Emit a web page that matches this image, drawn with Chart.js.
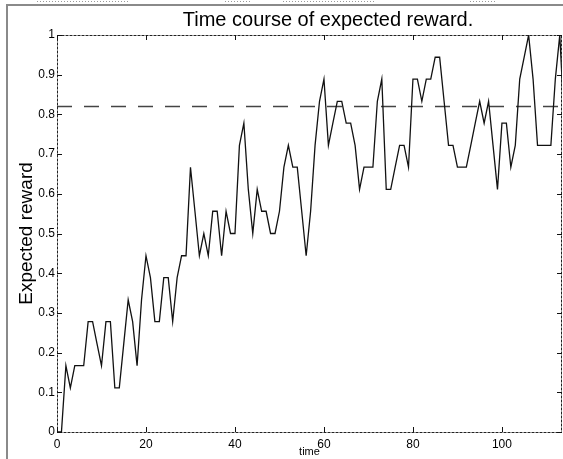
<!DOCTYPE html>
<html>
<head>
<meta charset="utf-8">
<title>Time course of expected reward</title>
<script src="https://cdn.jsdelivr.net/npm/chart.js@4.4.0/dist/chart.umd.min.js"></script>
<style>
  html, body { margin: 0; padding: 0; background: #fff; }
</style>
</head>
<body>
<canvas id="grafico" width="563" height="459"></canvas>
<script>
// Dados (tempo x recompensa esperada)
const timeSteps = [
  0, 1, 2, 3, 4, 5, 6, 7, 8, 9, 10, 11, 12, 13, 14, 15, 16, 17, 18, 19,
  20, 21, 22, 23, 24, 25, 26, 27, 28, 29, 30, 31, 32, 33, 34, 35, 36, 37, 38, 39,
  40, 41, 42, 43, 44, 45, 46, 47, 48, 49, 50, 51, 52, 53, 54, 55, 56, 57, 58, 59,
  60, 61, 62, 63, 64, 65, 66, 67, 68, 69, 70, 71, 72, 73, 74, 75, 76, 77, 78, 79,
  80, 81, 82, 83, 84, 85, 86, 87, 88, 89, 90, 91, 92, 93, 94, 95, 96, 97, 98, 99,
  100, 101, 102, 103, 104, 105, 106, 107, 108, 109, 110, 111, 112, 113, 114
];
const expectedReward = [
  0, 0, 0.167, 0.111, 0.167, 0.167, 0.167, 0.278, 0.278, 0.222,
  0.167, 0.278, 0.278, 0.111, 0.111, 0.222, 0.333, 0.278, 0.167, 0.333,
  0.444, 0.389, 0.278, 0.278, 0.389, 0.389, 0.278, 0.389, 0.444, 0.444,
  0.667, 0.556, 0.444, 0.5, 0.444, 0.556, 0.556, 0.444, 0.556, 0.5,
  0.5, 0.722, 0.778, 0.611, 0.5, 0.611, 0.556, 0.556, 0.5, 0.5,
  0.556, 0.667, 0.722, 0.667, 0.667, 0.556, 0.444, 0.556, 0.722, 0.833,
  0.889, 0.722, 0.778, 0.833, 0.833, 0.778, 0.778, 0.722, 0.611, 0.667,
  0.667, 0.667, 0.833, 0.889, 0.611, 0.611, 0.667, 0.722, 0.722, 0.667,
  0.889, 0.889, 0.833, 0.889, 0.889, 0.944, 0.944, 0.833, 0.722, 0.722,
  0.667, 0.667, 0.667, 0.722, 0.778, 0.833, 0.778, 0.833, 0.722, 0.611,
  0.778, 0.778, 0.667, 0.722, 0.889, 0.944, 1.0, 0.889, 0.722, 0.722,
  0.722, 0.722, 0.889, 1.0, 0.778
];
const referenceLevel = 0.82;   // linha tracejada
const xRange = [0, 113.5];
const xTicks = [0, 20, 40, 60, 80, 100];
const yTicks = [0, 0.1, 0.2, 0.3, 0.4, 0.5, 0.6, 0.7, 0.8, 0.9, 1];

const chartTitle = 'Time course of expected reward.';
const FONT = '"Liberation Sans", Arial, Helvetica, sans-serif';

// Moldura estilo MATLAB: caixa pontilhada, ticks para dentro e título
const moldura = {
  id: 'moldura',
  afterDraw(chart) {
    const { ctx, chartArea: a, scales: { x, y } } = chart;
    ctx.save();

    // borda da janela (cinza)
    ctx.strokeStyle = '#8a8a8a';
    ctx.lineWidth = 2;
    ctx.beginPath();
    ctx.moveTo(7, 459); ctx.lineTo(7, 5); ctx.lineTo(563, 5);
    ctx.stroke();

    // restos pontilhados no topo
    ctx.lineWidth = 1;
    ctx.strokeStyle = '#999';
    ctx.setLineDash([1, 2]);
    [[37, 130], [225, 250], [283, 375], [470, 495]].forEach(([x0, x1]) => {
      ctx.beginPath(); ctx.moveTo(x0, 1.5); ctx.lineTo(x1, 1.5); ctx.stroke();
    });

    // caixa do gráfico
    ctx.strokeStyle = '#222';
    ctx.setLineDash([3, 1]);
    ctx.strokeRect(a.left + 0.5, a.top + 0.5, a.right - a.left - 1, a.bottom - a.top);
    ctx.setLineDash([]);

    // ticks para dentro
    const len = 5;
    ctx.strokeStyle = '#111';
    ctx.beginPath();
    xTicks.forEach(v => {
      const px = Math.round(x.getPixelForValue(v)) + 0.5;
      ctx.moveTo(px, a.bottom); ctx.lineTo(px, a.bottom - len);
      ctx.moveTo(px, a.top); ctx.lineTo(px, a.top + len);
    });
    yTicks.forEach(v => {
      const py = Math.round(y.getPixelForValue(v)) + 0.5;
      ctx.moveTo(a.left, py); ctx.lineTo(a.left + len, py);
      ctx.moveTo(a.right, py); ctx.lineTo(a.right - len, py);
    });
    ctx.stroke();

    // título
    ctx.fillStyle = '#000';
    ctx.font = '20px ' + FONT;
    ctx.textAlign = 'center';
    ctx.textBaseline = 'alphabetic';
    ctx.fillText(chartTitle, 328, 26);

    ctx.restore();
  }
};

const ctx = document.getElementById('grafico').getContext('2d');

new Chart(ctx, {
  type: 'line',
  data: {
    datasets: [
      {
        label: 'Expected reward',
        data: timeSteps.map((t, i) => ({ x: t, y: expectedReward[i] })),
        borderColor: '#111',
        borderWidth: 1.3,
        pointRadius: 0,
        tension: 0
      },
      {
        label: 'Reference',
        data: [{ x: xRange[0], y: referenceLevel }, { x: xRange[1], y: referenceLevel }],
        borderColor: '#444',
        borderWidth: 1.5,
        borderDash: [15, 12],
        pointRadius: 0
      }
    ]
  },
  options: {
    responsive: false,
    animation: false,
    layout: { padding: { top: 35, right: 1, left: 0, bottom: 0 } },
    plugins: {
      legend: { display: false },
      title: { display: false },
      tooltip: { enabled: false }
    },
    scales: {
      x: {
        type: 'linear',
        min: xRange[0],
        max: xRange[1],
        grid: { display: false, drawTicks: false },
        border: { display: false },
        afterFit: s => { s.height = 27; },
        afterBuildTicks: s => { s.ticks = xTicks.map(v => ({ value: v })); },
        ticks: { padding: 5, color: '#000', font: { family: FONT, size: 12 } },
        title: {
          display: true,
          text: 'time',
          color: '#000',
          padding: { top: 0, bottom: 0 },
          font: { family: FONT, size: 11 }
        }
      },
      y: {
        min: 0,
        max: 1,
        grid: { display: false, drawTicks: false },
        border: { display: false },
        afterFit: s => { s.width = 57; },
        afterBuildTicks: s => { s.ticks = yTicks.map(v => ({ value: v })); },
        ticks: {
          padding: 2,
          color: '#000',
          font: { family: FONT, size: 12 },
          // MATLAB mostra 0, 0.1, ..., 1 (sem zeros extras)
          callback: v => String(Number(v.toFixed(1)))
        },
        title: {
          display: true,
          text: 'Expected reward',
          color: '#000',
          padding: { top: 15, bottom: 0 },
          font: { family: FONT, size: 19 }
        }
      }
    }
  },
  plugins: [moldura]
});
</script>
</body>
</html>
